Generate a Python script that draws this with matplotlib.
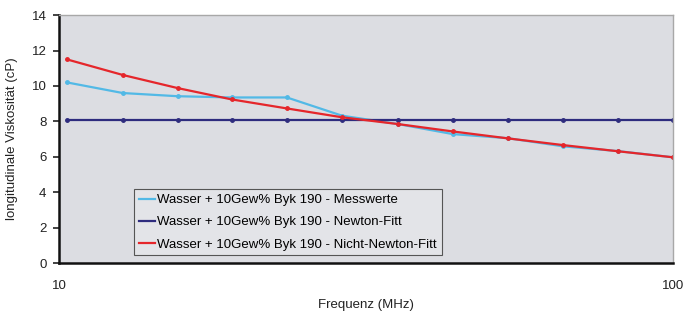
import numpy as np
import matplotlib
matplotlib.use("Agg")
import matplotlib.pyplot as plt

plt.rcParams['font.family'] = ['Liberation Sans', 'DejaVu Sans']

# Frequenz in MHz (log axis)
freq = [10.3, 12.7, 15.6, 19.1, 23.5, 28.9, 35.6, 43.8, 53.8, 66.2, 81.4, 100.0]

# longitudinale Viskositaet (cP)
messwerte = [10.2, 9.6, 9.42, 9.35, 9.35, 8.32, 7.85, 7.28, 7.05, 6.59, 6.32, 5.97]
newton_fit = [8.1] * 12
nicht_newton_fit = [11.5, 10.62, 9.88, 9.24, 8.73, 8.23, 7.85, 7.43, 7.04, 6.66, 6.31, 5.97]

labels = [
    'Wasser + 10Gew% Byk 190 - Messwerte',
    'Wasser + 10Gew% Byk 190 - Newton-Fitt',
    'Wasser + 10Gew% Byk 190 - Nicht-Newton-Fitt',
]
colors = ['#52b9e6', '#2e2c7e', '#e5262b']

fig = plt.figure(figsize=(6.97, 3.15), dpi=100)
ax = fig.add_axes([0.0847, 0.165, 0.881, 0.787])
ax.set_facecolor('#dcdde2')

for ys, lab, c in zip([messwerte, newton_fit, nicht_newton_fit], labels, colors):
    ax.plot(freq, ys, color=c, lw=1.6, marker='o', ms=2.5, label=lab)

ax.set_xscale('log')
ax.set_xlim(10, 100)
ax.set_ylim(0, 14)
ax.set_yticks(range(0, 15, 2))
ax.set_xticks([10, 100])
ax.set_xticklabels(['10', '100'])
ax.xaxis.set_minor_locator(matplotlib.ticker.NullLocator())
ax.tick_params(axis='y', direction='out', length=4, width=1.2, pad=5, labelsize=9.5, colors='#222222')
ax.tick_params(axis='x', length=0, pad=12, labelsize=9.5, colors='#222222')

for s in ['left', 'bottom']:
    ax.spines[s].set_color('#111111')
    ax.spines[s].set_linewidth(1.8)
for s in ['top', 'right']:
    ax.spines[s].set_color('#a8a8a8')
    ax.spines[s].set_linewidth(1.0)

ax.set_xlabel('Frequenz (MHz)', fontsize=9.5, color='#222222', labelpad=5)
ax.set_ylabel('longitudinale Viskosität (cP)', fontsize=9.5, color='#222222', labelpad=10)

leg = ax.legend(loc='lower left', bbox_to_anchor=(0.112, 0.005), fontsize=9.5,
                frameon=True, fancybox=False, shadow=False, handlelength=1.2,
                handletextpad=0.2, borderpad=0.35, labelspacing=0.75)
leg.get_frame().set_facecolor('#e3e4e8')
leg.get_frame().set_edgecolor('#555555')
leg.get_frame().set_linewidth(0.8)
leg.get_frame().set_alpha(1)
for h in leg.legend_handles:
    h.set_marker('')

fig.savefig('out.png', dpi=100)
